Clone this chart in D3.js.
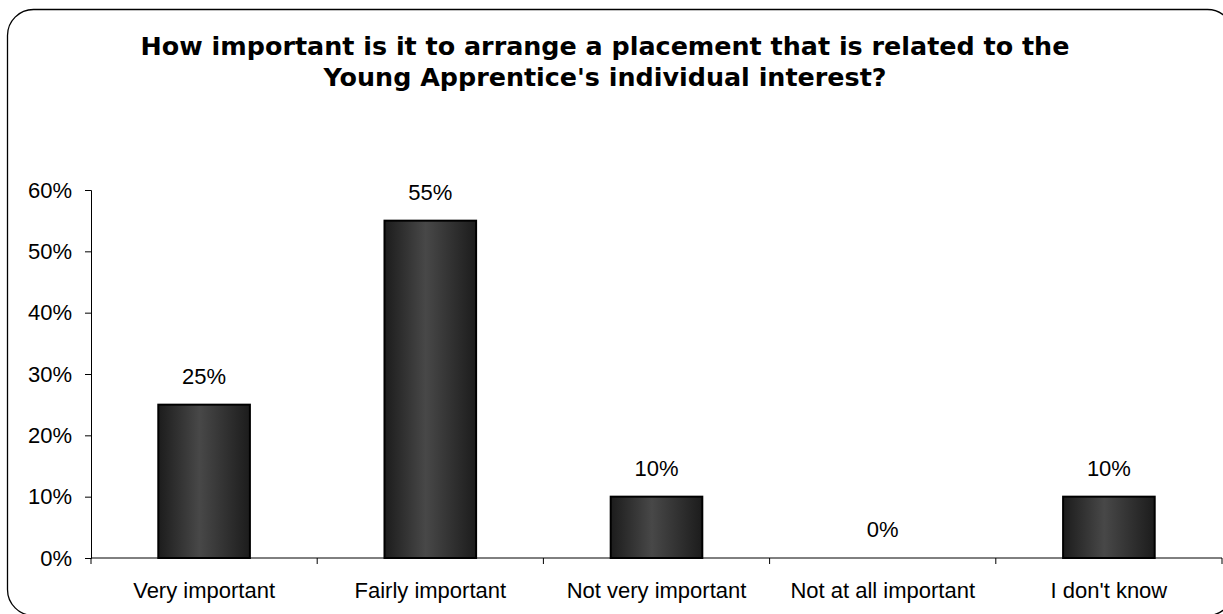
<!DOCTYPE html>
<html>
<head>
<meta charset="utf-8">
<script src="https://cdn.jsdelivr.net/npm/d3@7/dist/d3.min.js"></script>
<style>
  html, body { margin: 0; padding: 0; background: #fff; }
  svg { display: block; }
</style>
</head>
<body>
<svg id="chart" width="1223" height="614"></svg>
<script>
// Survey responses (share of respondents)
const categories = ["Very important", "Fairly important", "Not very important", "Not at all important", "I don't know"];
const values = [0.25, 0.55, 0.10, 0.00, 0.10];
const yTicks = [0, 0.1, 0.2, 0.3, 0.4, 0.5, 0.6];
const titleLines = [
  "How important is it to arrange a placement that is related to the",
  "Young Apprentice's individual interest?"
];

(function () {
const svg = d3.select("#chart");
const labelFont = "Liberation Sans, Arial, sans-serif";
const labelSize = 22;

// Rounded frame around the chart area
svg.append("rect")
  .attr("x", 7.5).attr("y", 9.5)
  .attr("width", 1226).attr("height", 606)
  .attr("rx", 26).attr("ry", 26)
  .attr("fill", "#fff")
  .attr("stroke", "#000").attr("stroke-width", 1.3);

// Bar gradient: dark edges, lighter centre
const defs = svg.append("defs");
const grad = defs.append("linearGradient").attr("id", "barGrad")
  .attr("x1", "0%").attr("x2", "100%").attr("y1", "0%").attr("y2", "0%");
grad.append("stop").attr("offset", "0%").attr("stop-color", "#1c1c1c");
grad.append("stop").attr("offset", "45%").attr("stop-color", "#484848");
grad.append("stop").attr("offset", "100%").attr("stop-color", "#1c1c1c");

// Title
const title = svg.append("text")
  .attr("text-anchor", "middle")
  .attr("font-family", "DejaVu Sans, Verdana, sans-serif")
  .attr("font-weight", "bold")
  .attr("font-size", 25.4)
  .attr("fill", "#000");
titleLines.forEach((t, i) => {
  title.append("tspan").attr("x", 605).attr("y", 55 + i * 31).text(t);
});

const plotLeft = 91, plotRight = 1222, plotTop = 190, plotBottom = 558;

const x = d3.scaleBand().domain(categories).range([plotLeft, plotRight]).paddingInner(0).paddingOuter(0);
const y = d3.scaleLinear().domain([0, 0.6]).range([plotBottom, plotTop]);

// Y axis
const yAxis = d3.axisLeft(y).tickValues(yTicks).tickFormat(d3.format(".0%")).tickSizeOuter(0).tickSize(6).tickPadding(13);
const gy = svg.append("g").attr("transform", `translate(${plotLeft},0)`).call(yAxis);
gy.select(".domain").attr("stroke", "#000");
gy.selectAll(".tick line").attr("stroke", "#000");
gy.selectAll(".tick text")
  .attr("font-family", labelFont)
  .attr("font-size", labelSize).attr("fill", "#000");

const rows = categories.map((c, i) => ({ c, v: values[i] }));

// Bars
const bw = x.bandwidth() * 0.405;
svg.append("g").selectAll("rect")
  .data(rows.filter(d => d.v > 0))
  .join("rect")
  .attr("x", d => x(d.c) + (x.bandwidth() - bw) / 2)
  .attr("y", d => y(d.v))
  .attr("width", bw)
  .attr("height", d => y(0) - y(d.v))
  .attr("fill", "url(#barGrad)")
  .attr("stroke", "#000").attr("stroke-width", 2);

// X axis with ticks between categories
const gx = svg.append("g").attr("transform", `translate(0,${plotBottom})`);
gx.append("line").attr("x1", plotLeft).attr("x2", plotRight).attr("y1", 0).attr("y2", 0).attr("stroke", "#000");
const bounds = d3.range(categories.length + 1).map(i => plotLeft + i * x.step());
gx.selectAll("line.tk").data(bounds).join("line").attr("class", "tk")
  .attr("x1", d => d).attr("x2", d => d).attr("y1", 0).attr("y2", 6).attr("stroke", "#000");
gx.selectAll("text").data(categories).join("text")
  .attr("x", d => x(d) + x.bandwidth() / 2)
  .attr("y", 40)
  .attr("text-anchor", "middle")
  .attr("font-family", labelFont)
  .attr("font-size", labelSize).attr("fill", "#000")
  .text(d => d);

// Value labels
svg.append("g").selectAll("text")
  .data(rows)
  .join("text")
  .attr("x", d => x(d.c) + x.bandwidth() / 2)
  .attr("y", d => y(d.v) - 21)
  .attr("text-anchor", "middle")
  .attr("font-family", labelFont)
  .attr("font-size", labelSize).attr("fill", "#000")
  .text(d => d3.format(".0%")(d.v));
})();
</script>
</body>
</html>
